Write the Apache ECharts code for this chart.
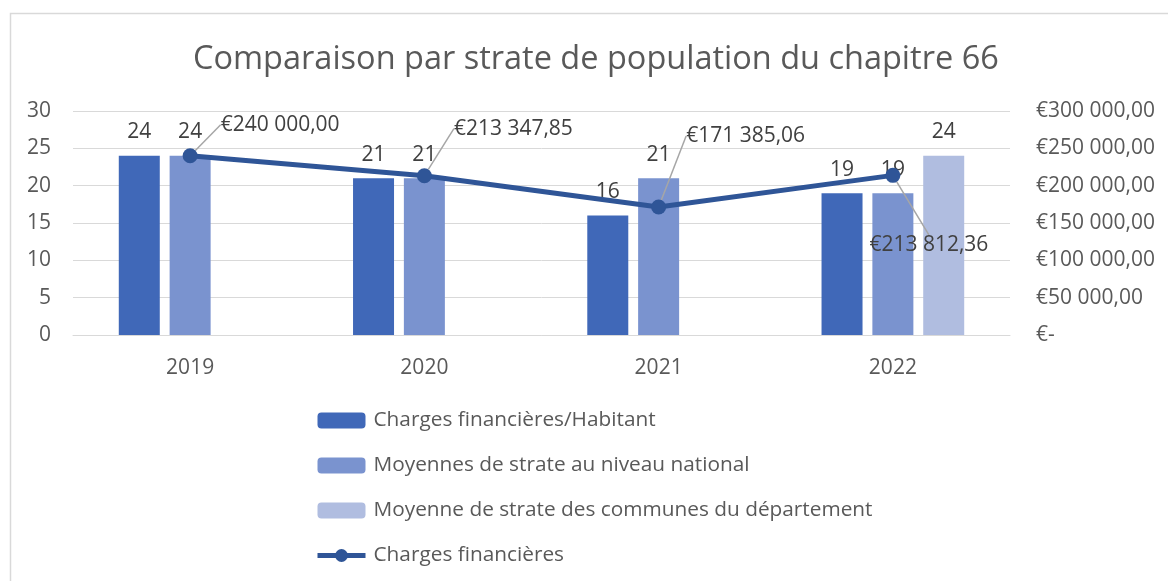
<!DOCTYPE html>
<html>
<head>
<meta charset="utf-8">
<title>Comparaison par strate de population du chapitre 66</title>
<script src="https://cdn.jsdelivr.net/npm/echarts@6/dist/echarts.min.js"></script>
<style>
  html, body { margin: 0; padding: 0; background: #fff; }
  #chart_con { width: 1168px; height: 581px; }
</style>
</head>
<body>
<div id="chart_con"></div>
<script>
const years = ["2019", "2020", "2021", "2022"];
const parHabitant = [24, 21, 16, 19];
const moyenneNationale = [24, 21, 21, 19];
const moyenneDepartement = [null, null, null, 24];
const chargesFinancieres = [240000.0, 213347.85, 171385.06, 213812.36];
const leftTicks = [0, 5, 10, 15, 20, 25, 30];
const rightTicks = [0, 50000, 100000, 150000, 200000, 250000, 300000];

// where the line labels sit relative to their point (Excel layout)
const lineLabelShift = [[90, -31], [89, -47], [87, -71], [36, 70]];

const fontName = "'Open Sans', sans-serif";

function euro(v) {
  if (!v) return "€-";
  const parts = v.toFixed(2).split(".");
  const ent = parts[0].replace(/\B(?=(\d{3})+(?!\d))/g, " ");
  return "€" + ent + "," + parts[1];
}

const option = {
  textStyle: { fontFamily: fontName },
  color: ["#4068b8", "#7a93cf", "#b0bde0", "#2f5597"],
  title: {
    text: "Comparaison par strate de population du chapitre 66",
    left: 188,
    top: 38,
    textStyle: { fontSize: 32.5, fontWeight: "normal", color: "#595959", fontFamily: fontName }
  },
  legend: {
    orient: "vertical",
    left: 310,
    top: 405,
    itemWidth: 48,
    itemHeight: 16,
    itemGap: 24,
    textStyle: { fontSize: 20.8, color: "#595959", lineHeight: 20, fontFamily: fontName, padding: [0, 0, 0, 3] },
    data: [
      "Charges financières/Habitant",
      "Moyennes de strate au niveau national",
      "Moyenne de strate des communes du département",
      { name: "Charges financières", lineStyle: { width: 5 } }
    ]
  },
  grid: {
    left: 73,
    right: 158,
    top: 111,
    bottom: 246
  },
  xAxis: [
    {
      type: "category",
      data: years,
      axisLine: { lineStyle: { color: "#d9d9d9", width: 1 } },
      axisTick: { show: false },
      axisLabel: { fontSize: 21, color: "#595959", margin: 23 }
    }
  ],
  yAxis: [
    {
      type: "value",
      min: leftTicks[0],
      max: leftTicks[leftTicks.length - 1],
      interval: leftTicks[1] - leftTicks[0],
      axisLine: { show: false },
      axisTick: { show: false },
      axisLabel: { fontSize: 21, color: "#595959", margin: 22 },
      splitLine: { lineStyle: { color: "#d9d9d9", width: 1 } }
    },
    {
      type: "value",
      min: rightTicks[0],
      max: rightTicks[rightTicks.length - 1],
      interval: rightTicks[1] - rightTicks[0],
      axisLine: { show: false },
      axisTick: { show: false },
      splitLine: { show: false },
      axisLabel: { fontSize: 21, color: "#595959", margin: 26, formatter: euro }
    }
  ],
  series: [
    {
      name: "Charges financières/Habitant",
      type: "bar",
      barWidth: 41,
      barGap: "24%",
      data: parHabitant,
      label: { show: true, position: "top", distance: 13, fontSize: 21, color: "#404040" }
    },
    {
      name: "Moyennes de strate au niveau national",
      type: "bar",
      barWidth: 41,
      barGap: "24%",
      data: moyenneNationale,
      label: { show: true, position: "top", distance: 13, fontSize: 21, color: "#404040" }
    },
    {
      name: "Moyenne de strate des communes du département",
      type: "bar",
      barWidth: 41,
      barGap: "24%",
      data: moyenneDepartement,
      label: { show: true, position: "top", distance: 13, fontSize: 21, color: "#404040" }
    },
    {
      name: "Charges financières",
      type: "line",
      yAxisIndex: 1,
      data: chargesFinancieres,
      symbol: "circle",
      symbolSize: 15,
      lineStyle: { width: 5, color: "#2f5597" },
      itemStyle: { color: "#2f5597" },
      z: 5,
      label: {
        show: true,
        position: "inside",
        fontSize: 21,
        color: "#404040",
        formatter: function (p) { return euro(p.value); }
      },
      labelLine: { show: true, lineStyle: { color: "#a6a6a6", width: 1.5 } },
      labelLayout: function (p) {
        const s = lineLabelShift[p.dataIndex];
        return { dx: s[0], dy: s[1] };
      }
    }
  ],
  graphic: [
    {
      type: "rect",
      shape: { x: 10.5, y: 13.5, width: 1300, height: 700 },
      style: { fill: "none", stroke: "#d9d9d9", lineWidth: 1.5 },
      silent: true
    }
  ]
};

const chart = echarts.init(document.getElementById("chart_con"));
chart.setOption(option);
window.addEventListener("resize", function () {
  chart.resize();
});
</script>
</body>
</html>
